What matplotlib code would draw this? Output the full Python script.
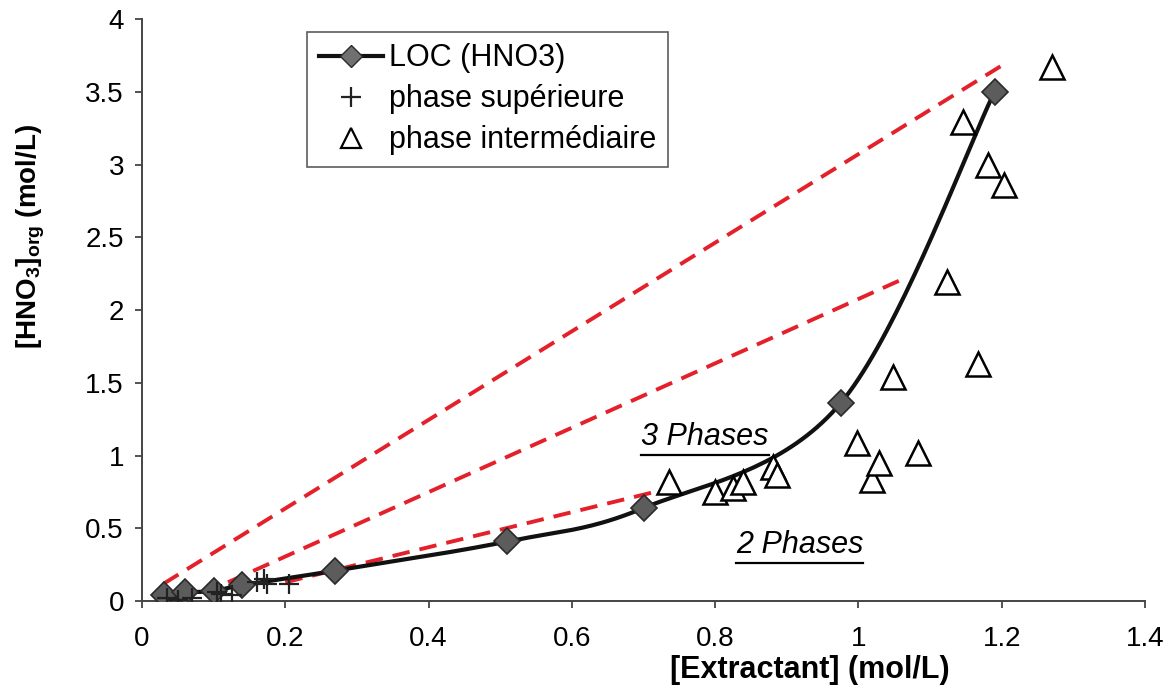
import numpy as np
import matplotlib
matplotlib.use('Agg')
import matplotlib.pyplot as plt
from matplotlib.lines import Line2D

plt.rcParams['font.family'] = ['Liberation Sans', 'DejaVu Sans']
plt.rcParams['mathtext.fontset'] = 'custom'
plt.rcParams['mathtext.rm'] = 'Liberation Sans'
plt.rcParams['mathtext.it'] = 'Liberation Sans:italic'
plt.rcParams['mathtext.bf'] = 'Liberation Sans:bold'

# LOC curve (HNO3)
loc_x = [0.03, 0.06, 0.10, 0.14, 0.27, 0.51, 0.70, 0.975, 1.19]
loc_y = [0.04, 0.06, 0.07, 0.11, 0.21, 0.41, 0.64, 1.36, 3.50]

# upper phase
sup_x = [0.035, 0.05, 0.07, 0.105, 0.11, 0.125, 0.16, 0.17, 0.175, 0.205]
sup_y = [0.02, 0.01, 0.02, 0.06, 0.05, 0.04, 0.13, 0.15, 0.12, 0.12]

# intermediate (third) phase
int_x = [0.736, 0.80, 0.825, 0.839, 0.881, 0.886, 0.998, 1.019, 1.029,
         1.048, 1.083, 1.124, 1.146, 1.167, 1.181, 1.203, 1.27]
int_y = [0.82, 0.75, 0.78, 0.82, 0.92, 0.87, 1.09, 0.83, 0.95,
         1.54, 1.02, 2.19, 3.29, 1.63, 3.00, 2.86, 3.67]

# dashed boundaries of the 3-phase region
lim_a_x = [0.03, 1.20]
lim_a_y = [0.12, 3.68]
lim_b_x = [0.12, 1.065]
lim_b_y = [0.13, 2.22]
lim_c_x = [0.20, 0.74]
lim_c_y = [0.13, 0.78]

x_ticks = [0, 0.2, 0.4, 0.6, 0.8, 1, 1.2, 1.4]
y_ticks = [0, 0.5, 1, 1.5, 2, 2.5, 3, 3.5, 4]


def catmull_rom(pts, n=40):
    # smooth curve through the points (excel-like smoothed line)
    p = np.vstack([pts[0], pts, pts[-1]])
    t = np.linspace(0, 1, n)[:, None]
    segs = []
    for i in range(1, len(p) - 2):
        p0, p1, p2, p3 = p[i - 1], p[i], p[i + 1], p[i + 2]
        seg = 0.5 * (2 * p1 + (-p0 + p2) * t
                     + (2 * p0 - 5 * p1 + 4 * p2 - p3) * t ** 2
                     + (-p0 + 3 * p1 - 3 * p2 + p3) * t ** 3)
        segs.append(seg)
    return np.vstack(segs)


def underline(fig, txt, gap=3):
    # draw a line just under a text's bounding box
    r = fig.canvas.get_renderer()
    bb = txt.get_window_extent(renderer=r)
    fig.add_artist(Line2D([bb.x0, bb.x1], [bb.y0 - gap, bb.y0 - gap],
                          transform=None, color='black', lw=1.6))


fig = plt.figure(figsize=(11.69, 6.95), dpi=100)
ax = fig.add_axes([0.1215, 0.135, 0.858, 0.8377])
ax.set_xlim(0, 1.4)
ax.set_ylim(0, 4)

red = '#e4202a'
for lx, ly in [(lim_a_x, lim_a_y), (lim_b_x, lim_b_y), (lim_c_x, lim_c_y)]:
    ax.plot(lx, ly, color=red, lw=2.8, dashes=(4.5, 2.6), zorder=2)

# smoothing done in display space so both axes scale the same
disp = ax.transData.transform(np.column_stack([loc_x, loc_y]))
curve = ax.transData.inverted().transform(catmull_rom(disp))
ax.plot(curve[:, 0], curve[:, 1], color='#111111', lw=3, zorder=3)
ax.plot(loc_x, loc_y, ls='none', marker='D', ms=13, mfc='#5c5c5c',
        mec='#2a2a2a', mew=1.2, zorder=4)

ax.plot(sup_x, sup_y, ls='none', marker='+', ms=15, mew=1.6,
        color='#222222', zorder=5)
ax.plot(int_x, int_y, ls='none', marker='^', ms=17, mfc='white',
        mec='black', mew=1.8, zorder=5)

# legend handles
h1, = ax.plot([], [], color='#111111', lw=3, marker='D', ms=11,
              mfc='#707070', mec='#2a2a2a')
h2, = ax.plot([], [], ls='none', marker='+', ms=15, mew=1.6, color='#222222')
h3, = ax.plot([], [], ls='none', marker='^', ms=14, mfc='white',
              mec='black', mew=1.6)
leg = ax.legend([h1, h2, h3],
                ['LOC (HNO3)', 'phase supérieure', 'phase intermédiaire'],
                loc='upper left', bbox_to_anchor=(0.1645, 0.978),
                fontsize=22, frameon=True, fancybox=False, shadow=False,
                handlelength=2.1, handletextpad=0.2, labelspacing=0.36,
                borderpad=0.38, borderaxespad=0)
leg.get_frame().set_edgecolor('#333333')
leg.get_frame().set_linewidth(1.2)

t3 = ax.text(0.786, 1.13, '3 Phases', fontsize=22, style='italic',
             ha='center', va='center')
t2 = ax.text(0.918, 0.385, '2 Phases', fontsize=22, style='italic',
             ha='center', va='center')

ax.set_xticks(x_ticks)
ax.set_yticks(y_ticks)
ax.set_xticklabels(['%g' % v for v in x_ticks])
ax.set_yticklabels(['%g' % v for v in y_ticks])
ax.tick_params(axis='both', direction='out', length=5, width=1.3,
               color='#444444', labelsize=20)
ax.tick_params(axis='x', pad=13)
ax.tick_params(axis='y', pad=8)

for s in ['top', 'right']:
    ax.spines[s].set_visible(False)
for s in ['left', 'bottom']:
    ax.spines[s].set_color('#444444')
    ax.spines[s].set_linewidth(1.4)

ax.set_xlabel('[Extractant] (mol/L)', fontsize=22, fontweight='bold')
ax.xaxis.set_label_coords(0.666, -0.092)
ax.set_ylabel(r'[HNO$_\mathbf{3}$]$_\mathbf{org}$ (mol/L)', fontsize=20,
              fontweight='bold')
ax.yaxis.set_label_coords(-0.0947, 0.627)

underline(fig, t3)
underline(fig, t2)

fig.savefig('out.png', dpi=100)
